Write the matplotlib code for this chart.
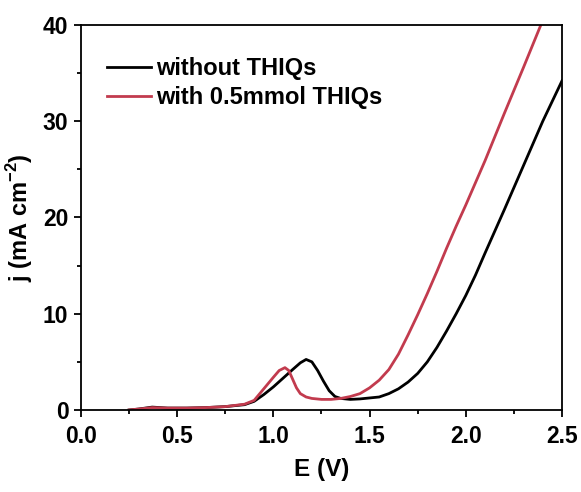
import matplotlib
matplotlib.use("Agg")
import matplotlib.pyplot as plt
from matplotlib.ticker import MultipleLocator, FormatStrFormatter

plt.rcParams['font.family'] = ['Liberation Sans', 'DejaVu Sans']

E_without = [0.25, 0.30, 0.37, 0.45, 0.55, 0.65, 0.75, 0.85, 0.90, 0.95, 1.00, 1.05, 1.10, 1.14, 1.17,
             1.20, 1.23, 1.26, 1.29, 1.32, 1.35, 1.40, 1.45, 1.50, 1.55, 1.60, 1.65, 1.70, 1.75, 1.80,
             1.85, 1.90, 1.95, 2.00, 2.05, 2.10, 2.20, 2.30, 2.40, 2.50]
j_without = [0.0, 0.1, 0.3, 0.2, 0.2, 0.25, 0.35, 0.55, 0.9, 1.6, 2.4, 3.3, 4.2, 4.9, 5.25,
             5.0, 4.1, 3.0, 2.0, 1.4, 1.2, 1.1, 1.15, 1.25, 1.35, 1.7, 2.2, 2.9, 3.8, 5.0,
             6.5, 8.2, 10.0, 11.9, 14.0, 16.3, 20.8, 25.4, 30.0, 34.2]

E_with = [0.25, 0.30, 0.37, 0.45, 0.55, 0.65, 0.75, 0.85, 0.90, 0.95, 1.00, 1.03, 1.06, 1.08, 1.10,
          1.12, 1.14, 1.17, 1.20, 1.25, 1.30, 1.35, 1.40, 1.45, 1.50, 1.55, 1.60, 1.65, 1.70, 1.75,
          1.80, 1.85, 1.90, 1.95, 2.00, 2.10, 2.20, 2.30, 2.39]
j_with = [0.0, 0.1, 0.25, 0.2, 0.2, 0.25, 0.35, 0.6, 1.0, 2.2, 3.4, 4.1, 4.4, 4.1, 3.2,
          2.3, 1.7, 1.35, 1.2, 1.1, 1.1, 1.2, 1.4, 1.7, 2.3, 3.1, 4.2, 5.8, 7.8, 9.9,
          12.1, 14.4, 16.8, 19.1, 21.3, 25.9, 30.8, 35.6, 40.0]

fig = plt.figure(figsize=(5.81, 4.92), dpi=100)
ax = fig.add_axes([0.1394, 0.1667, 0.8279, 0.7825])
ax.plot(E_without, j_without, color='black', lw=2.0, label='without THIQs')
ax.plot(E_with, j_with, color='#C23B4E', lw=2.0, label='with 0.5mmol THIQs')

ax.set_xlim(0, 2.5)
ax.set_ylim(0, 40)
ax.xaxis.set_major_locator(MultipleLocator(0.5))
ax.xaxis.set_minor_locator(MultipleLocator(0.25))
ax.xaxis.set_major_formatter(FormatStrFormatter('%.1f'))
ax.yaxis.set_major_locator(MultipleLocator(10))
ax.yaxis.set_minor_locator(MultipleLocator(5))
ax.tick_params(which='major', direction='out', length=5, width=1.3, labelsize=16.5)
ax.tick_params(axis='x', which='major', pad=6)
ax.tick_params(axis='y', which='major', pad=4)
ax.tick_params(which='minor', direction='out', length=3, width=1.3)
for lab in ax.get_xticklabels() + ax.get_yticklabels():
    lab.set_fontweight('bold')
for s in ax.spines.values():
    s.set_linewidth(1.3)
ax.set_xlabel('E (V)', fontsize=17.5, fontweight='bold', labelpad=7)
ax.set_ylabel('j (mA cm$^{\\mathregular{-2}}$)', fontsize=17, fontweight='bold', labelpad=6)

leg = ax.legend(loc='upper left', bbox_to_anchor=(0.054, 0.917), frameon=False,
                prop={'weight': 'bold', 'size': 17}, handlelength=1.85, handletextpad=0.25,
                labelspacing=0.27, borderpad=0, borderaxespad=0)

fig.savefig('out.png', dpi=100)
